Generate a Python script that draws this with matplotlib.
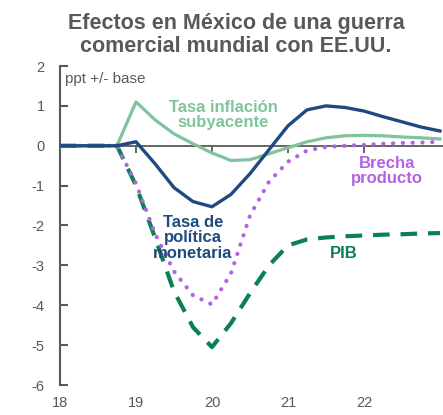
import matplotlib
matplotlib.use("Agg")
import matplotlib.pyplot as plt

plt.rcParams['font.family'] = ['Liberation Sans', 'DejaVu Sans']
plt.rcParams['axes.unicode_minus'] = False

# quarterly, 2018Q1 .. 2023Q1 (x in years, 18 = 2018)
x = [18 + i * 0.25 for i in range(21)]

tasa_politica = [0, 0, 0, 0, 0.1, -0.45, -1.05, -1.4, -1.53, -1.22, -0.7, -0.1,
                 0.5, 0.9, 1.0, 0.96, 0.87, 0.73, 0.6, 0.47, 0.37]
inflacion_sub = [0, 0, 0, 0, 1.1, 0.65, 0.3, 0.05, -0.18, -0.37, -0.35, -0.2,
                 -0.05, 0.1, 0.2, 0.25, 0.26, 0.25, 0.22, 0.2, 0.17]
brecha = [0, 0, 0, 0, -0.95, -2.2, -3.15, -3.75, -3.98, -3.2, -1.75, -0.9,
          -0.4, -0.12, -0.03, 0.0, 0.02, 0.05, 0.07, 0.08, 0.1]
pib = [0, 0, 0, 0, -1.0, -2.3, -3.65, -4.55, -5.05, -4.45, -3.7, -3.0,
       -2.5, -2.35, -2.3, -2.27, -2.25, -2.23, -2.22, -2.2, -2.19]

xticks = [18, 19, 20, 21, 22]
yticks = [-6, -5, -4, -3, -2, -1, 0, 1, 2]

c_blue = '#1F4A80'
c_lgreen = '#80C39C'
c_purple = '#B462E2'
c_dgreen = '#0B8055'
c_gray = '#595959'

fig = plt.figure(figsize=(4.43, 4.15), dpi=100)
ax = fig.add_axes([60 / 443, 1 - 385 / 415, 383 / 443, 319 / 415])

ax.plot(x, inflacion_sub, color=c_lgreen, lw=2.3, zorder=3)
ax.plot(x, pib, color=c_dgreen, lw=3, linestyle=(0, (4, 2.6)), zorder=3)
ax.plot(x, brecha, color=c_purple, lw=3, linestyle=(0, (0.05, 2.3)),
        dash_capstyle='round', zorder=4)
ax.plot(x, tasa_politica, color=c_blue, lw=2.4, zorder=5)

ax.set_xlim(18, 23.04)
ax.set_ylim(-6, 2)

for s in ['top', 'right']:
    ax.spines[s].set_visible(False)
ax.spines['bottom'].set_position(('data', 0))
ax.spines['bottom'].set_color(c_gray)
ax.spines['bottom'].set_linewidth(1.3)
ax.spines['bottom'].set_zorder(2)
ax.spines['left'].set_color(c_gray)
ax.spines['left'].set_linewidth(1.5)

ax.set_xticks(xticks)
ax.set_yticks(yticks)
ax.tick_params(axis='x', direction='out', length=5, width=1.3, color=c_gray,
               labelcolor=c_gray, labelsize=10.5, pad=175)
ax.tick_params(axis='y', direction='in', length=6, width=1.5, color=c_gray,
               labelcolor=c_gray, labelsize=10.5, pad=11)

ax.text(18.06, 1.68, 'ppt +/- base', color=c_gray, fontsize=11, va='center')

ax.set_title('Efectos en México de una guerra\ncomercial mundial con EE.UU.',
             color=c_gray, fontsize=15.5, fontweight='bold', pad=10, x=0.46,
             linespacing=1.15)

ax.text(20.15, 0.77, 'Tasa inflación\nsubyacente', color=c_lgreen, fontsize=12,
        fontweight='bold', ha='center', va='center', linespacing=1.05)
ax.text(22.3, -0.63, 'Brecha\nproducto', color=c_purple, fontsize=12,
        fontweight='bold', ha='center', va='center', linespacing=1.05)
ax.text(19.75, -2.31, 'Tasa de\npolítica\nmonetaria', color=c_blue, fontsize=12,
        fontweight='bold', ha='center', va='center', linespacing=1.05, zorder=6)
ax.text(21.74, -2.71, 'PIB', color=c_dgreen, fontsize=12,
        fontweight='bold', ha='center', va='center')

fig.savefig('out.png', dpi=100)
